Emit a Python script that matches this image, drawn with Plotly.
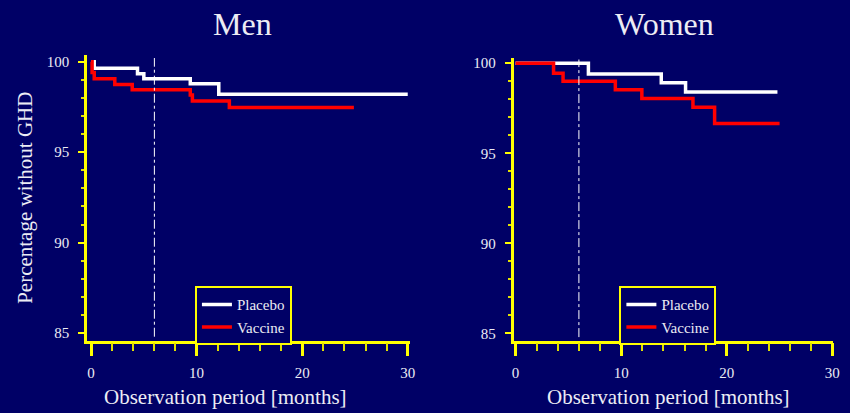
import plotly.graph_objects as go

# ---- data ----
men_placebo_months = [0, 0.3, 4.4, 5.0, 9.4, 12.1, 30.0]
men_placebo_pct = [100, 99.63, 99.33, 99.05, 98.78, 98.2, 98.2]
men_vaccine_months = [0, 0.1, 0.3, 2.25, 3.9, 9.4, 9.6, 13.1, 24.9]
men_vaccine_pct = [100, 99.4, 99.05, 98.74, 98.45, 98.15, 97.82, 97.47, 97.47]

women_placebo_months = [0, 6.9, 13.8, 16.1, 24.8]
women_placebo_pct = [100, 99.4, 98.91, 98.4, 98.4]
women_vaccine_months = [0, 3.6, 4.5, 9.45, 11.96, 16.8, 18.85, 25.0]
women_vaccine_pct = [100, 99.44, 98.99, 98.53, 98.04, 97.55, 96.65, 96.65]

panel_titles = ["Men", "Women"]
series_names = ["Placebo", "Vaccine"]
x_ticks = [0, 10, 20, 30]
y_ticks = [85, 90, 95, 100]
vaccination_month = 6

# ---- style ----
BG = "#000066"
YEL = "#ffff00"
TXT = "#ececf4"
FONT = "Liberation Serif"
W, H = 850, 413

fig = go.Figure()

def add(x, y, name, color, xa, ya, legend):
    fig.add_trace(go.Scatter(
        x=x, y=y, name=name, mode="lines", line=dict(color=color, width=3.5, shape="hv"),
        xaxis=xa, yaxis=ya, legend=legend))

add(men_placebo_months, men_placebo_pct, series_names[0], "white", "x", "y", "legend")
add(men_vaccine_months, men_vaccine_pct, series_names[1], "red", "x", "y", "legend")
add(women_placebo_months, women_placebo_pct, series_names[0], "white", "x2", "y2", "legend2")
add(women_vaccine_months, women_vaccine_pct, series_names[1], "red", "x2", "y2", "legend2")

def xax(domain, rng, anchor):
    return dict(domain=domain, range=rng, anchor=anchor, showgrid=False, zeroline=False,
                showline=True, linecolor=YEL, linewidth=2.5, ticks="outside", tickcolor=YEL,
                tickwidth=2.5, ticklen=13, tickvals=x_ticks, ticklabelstandoff=4,
                tickfont=dict(family=FONT, size=15, color=TXT),
                minor=dict(dtick=2, ticks="outside", ticklen=8, tickwidth=1.5,
                           tickcolor="#e0e000", showgrid=False))

def yax(domain, rng, anchor):
    return dict(domain=domain, range=rng, anchor=anchor, showgrid=False, zeroline=False,
                showline=True, linecolor=YEL, linewidth=2.5, ticks="outside", tickcolor=YEL,
                tickwidth=2, ticklen=6, tickvals=y_ticks, ticklabelstandoff=6,
                tickfont=dict(family=FONT, size=15, color=TXT),
                minor=dict(dtick=1, ticks="outside", ticklen=3, tickwidth=1.5,
                           tickcolor="#e0e000", showgrid=False))

legend_style = dict(xanchor="left", yanchor="top", bgcolor=BG, bordercolor=YEL, borderwidth=2,
                    font=dict(family=FONT, size=15, color=TXT))

fig.update_layout(
    width=W, height=H, margin=dict(l=0, r=0, t=0, b=0),
    paper_bgcolor=BG, plot_bgcolor=BG,
    xaxis=xax([86 / W, 412 / W], [-0.375, 30.18], "y"),
    yaxis=yax([1 - 341 / H, 1 - 53 / H], [84.58, 100.34], "x"),
    xaxis2=xax([517 / W, 840 / W], [-0.19, 30.07], "y2"),
    yaxis2=yax([1 - 341 / H, 1 - 56 / H], [84.6, 100.26], "x2"),
    legend=dict(x=195 / W, y=1 - 286 / H, **legend_style),
    legend2=dict(x=624 / W, y=1 - 286 / H, **legend_style),
)

for xr, yr in (("x", "y"), ("x2", "y2")):
    fig.add_shape(type="line", xref=xr, yref=yr, x0=vaccination_month, x1=vaccination_month,
                  y0=84.8, y1=100.2, line=dict(color="white", width=1, dash="dashdot"))

ann = [
    (panel_titles[0], 243 / W, 1 - 21 / H, 32, 0),
    (panel_titles[1], 670 / W, 1 - 21 / H, 32, 0),
    ("Observation period [months]", 226 / W, 1 - 398 / H, 21, 0),
    ("Observation period [months]", 674 / W, 1 - 398 / H, 21, 0),
    ("Percentage without GHD", 23 / W, 1 - 197 / H, 21, -90),
]
for text, x, y, size, ang in ann:
    fig.add_annotation(text=text, x=x, y=y, xref="paper", yref="paper", showarrow=False,
                       xanchor="center", yanchor="middle", textangle=ang,
                       font=dict(family=FONT, size=size, color=TXT))

fig.write_html(
    "out.html",
    config={"displayModeBar": False},
    post_script=("document.documentElement.style.margin='0';"
                 "document.documentElement.style.overflow='hidden';"
                 "document.body.style.margin='0';"
                 "document.body.style.overflow='hidden';"
                 "document.body.style.background='#000066';"),
)
